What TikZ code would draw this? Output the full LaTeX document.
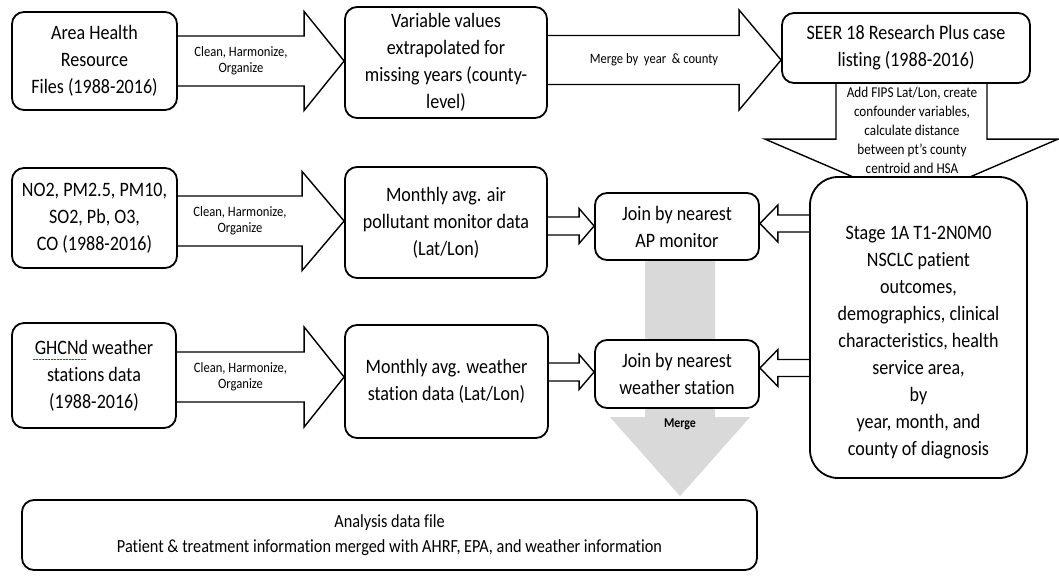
\documentclass[tikz,border=0pt]{standalone}
\usepackage{fontspec}
\setmainfont{Carlito}[FakeStretch=0.88, Ligatures=NoCommon]
\usetikzlibrary{calc}
\pgfdeclarelayer{bg}
\pgfsetlayers{bg,main}

\tikzset{
  box/.style={draw, line width=1.8pt, rounded corners=12pt, fill=white,
    align=center, inner sep=0pt, font=\fontsize{20.5}{27}\selectfont},
  blk/.style={draw, line width=1.4pt, fill=white, line join=miter},
  lbl/.style={align=center, font=\fontsize{14.3}{16}\selectfont},
  graybk/.style={fill=black!15, draw=none},
}

% right-pointing block arrow: from, to, dy, shaft half, head half, head length, label
\newcommand\blockR[7]{%
  \coordinate (tip) at ($(#2.west)+(0,#3)$);
  \coordinate (tail) at (#1.east |- tip);
  \draw[blk] ($(tail)+(0,-#4)$) -- ($(tip)+(-#6,-#4)$) -- ($(tip)+(-#6,-#5)$)
    -- (tip) -- ($(tip)+(-#6,#5)$) -- ($(tip)+(-#6,#4)$) -- ($(tail)+(0,#4)$);
  \node[lbl] at ($(tail)!0.5!(tip)+(-#6/2,0)$) {#7};
}
% left-pointing block arrow: from, to, dy, shaft half, head half, head length
\newcommand\blockL[6]{%
  \coordinate (tip) at ($(#2.east)+(0,#3)$);
  \coordinate (tail) at (#1.west |- tip);
  \draw[blk] ($(tail)+(0,-#4)$) -- ($(tip)+(#6,-#4)$) -- ($(tip)+(#6,-#5)$)
    -- (tip) -- ($(tip)+(#6,#5)$) -- ($(tip)+(#6,#4)$) -- ($(tail)+(0,#4)$);
}

\begin{document}
\begin{tikzpicture}[x=1pt,y=-1pt]
\useasboundingbox (0,0) rectangle (1059,577);

% boxes
\node[box, minimum width=165pt, minimum height=98pt] (ahrf) at (94.5,61)
  {Area Health\\Resource\\Files (1988-2016)};
\node[box, minimum width=202pt, minimum height=111pt] (var) at (446,62.5)
  {Variable values\\extrapolated for\\missing years (county-\\level)};
\node[box, minimum width=248pt, minimum height=70pt] (seer) at (906,48)
  {SEER 18 Research Plus case\\listing (1988-2016)};
\node[box, minimum width=165pt, minimum height=100pt] (poll) at (94.5,218)
  {NO2, PM2.5, PM10,\\SO2, Pb, O3,\\CO (1988-2016)};
\node[box, minimum width=202pt, minimum height=111pt] (airm) at (446,222.5)
  {Monthly avg. air\\pollutant monitor data\\(Lat/Lon)};
\node[box, minimum width=164pt, minimum height=67pt] (apj) at (677,226.5)
  {Join by nearest\\AP monitor};
\node[box, rounded corners=28pt, minimum width=217pt, minimum height=301pt] (stage) at (918.5,327.5) {};
\node[align=center, font=\fontsize{20.5}{27}\selectfont] (stagetext) at (918.5,342.5)
  {Stage 1A T1-2N0M0\\NSCLC patient\\outcomes,\\demographics, clinical\\characteristics, health\\service area,\\by\\year, month, and\\county of diagnosis};
\node[box, minimum width=164pt, minimum height=105pt] (ghcn) at (94,375.5)
  {GHCNd weather\\stations data\\(1988-2016)};
\node[box, minimum width=203pt, minimum height=113pt] (wdat) at (446.5,381.5)
  {Monthly avg. weather\\station data (Lat/Lon)};
\node[box, minimum width=164pt, minimum height=68pt] (wj) at (677,374)
  {Join by nearest\\weather station};
\node[box, minimum width=735pt, minimum height=70pt, font=\fontsize{18.5}{25}\selectfont] (ana) at (389.5,535)
  {Analysis data file\\Patient \& treatment information merged with AHRF, EPA, and weather information};

% spell-check mark under GHCNd
\draw[red, dash pattern=on 1.5pt off 1.5pt, line width=0.9pt] ($(ghcn.center)+(-61,-16)$) -- ($(ghcn.center)+(-7,-16)$);

\begin{pgfonlayer}{bg}
  \blockR{ahrf}{var}{-1.5}{25}{49.5}{40}{Clean, Harmonize,\\Organize}
  \blockR{poll}{airm}{-1.5}{25}{49.5}{42}{Clean, Harmonize,\\Organize}
  \blockR{ghcn}{wdat}{-4.5}{25}{50}{40}{Clean, Harmonize,\\Organize}
  \blockR{var}{seer}{12}{24.5}{50}{42}{}
  \node[lbl] (mlbl) at (654,60) {Merge by\ \ year\ \ \& county};
  \blockR{airm}{apj}{-0.5}{9}{17.5}{15}{}
  \blockR{wdat}{wj}{-2}{9}{17.5}{15}{}
  \blockL{stage}{apj}{-3}{8.5}{18.5}{18}
  \blockL{stage}{wj}{-6}{8.5}{18.5}{18}

  % down arrow from the case listing into the patient box
  \coordinate (dtail) at ($(seer.south)+(5.5,0)$);
  \coordinate (dtip) at ($(dtail |- stage.north)+(0,26)$);
  \draw[blk] ($(dtail)+(-75.5,0)$) -- ($(dtip)+(-75.5,-63)$) -- ($(dtip)+(-146.5,-63)$)
    -- (dtip) -- ($(dtip)+(146.5,-63)$) -- ($(dtip)+(75.5,-63)$) -- ($(dtail)+(75.5,0)$);

  % gray merge arrow
  \coordinate (gtail) at ($(apj.south)+(3,0)$);
  \coordinate (gtip) at ($(gtail |- ana.north)+(0,-3)$);
  \fill[graybk] ($(gtail)+(-35,0)$) -- ($(gtip)+(-35,-79)$) -- ($(gtip)+(-70,-79)$)
    -- (gtip) -- ($(gtip)+(70,-79)$) -- ($(gtip)+(35,-79)$) -- ($(gtail)+(35,0)$) -- cycle;
\end{pgfonlayer}

\node[align=center, font=\fontsize{15}{19}\selectfont] (addtxt) at (912,130)
  {Add FIPS Lat/Lon, create\\confounder variables,\\calculate distance\\between pt's county\\centroid and HSA};
\node[font=\fontsize{13.5}{15}\bfseries\selectfont] (mergetxt) at ($(gtip)+(0,-72)$) {Merge};
\end{tikzpicture}
\end{document}
